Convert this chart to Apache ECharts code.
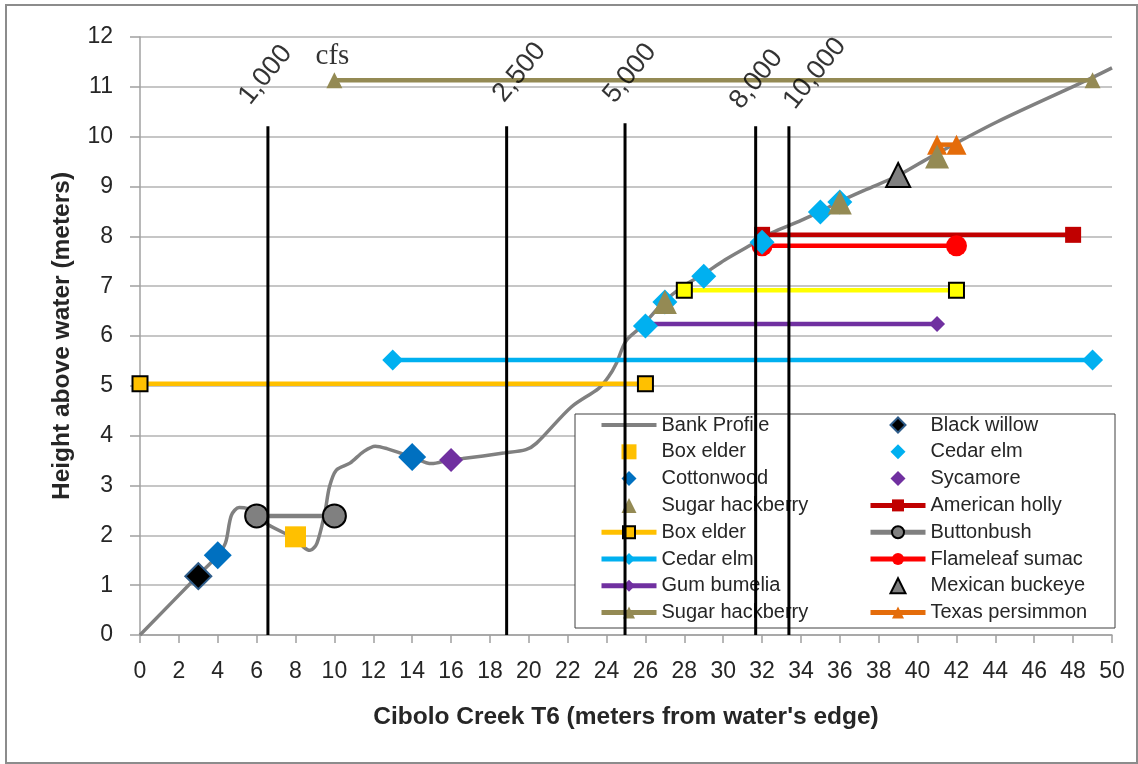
<!DOCTYPE html>
<html><head><meta charset="utf-8">
<script src="https://cdn.jsdelivr.net/npm/echarts@6/dist/echarts.min.js"></script>
<style>html,body{margin:0;padding:0;background:#fff}#c{width:1138px;height:764px}</style>
</head><body><div id="c"></div>
<script>
// ---- data ----
const xTicks = [0,2,4,6,8,10,12,14,16,18,20,22,24,26,28,30,32,34,36,38,40,42,44,46,48,50];
const yTicks = [0,1,2,3,4,5,6,7,8,9,10,11,12];
const bankProfile = [[0,0],[3,1.2],[4,1.6],[4.4,1.85],[4.7,2.4],[5.1,2.56],[5.5,2.54],[6,2.38],[6.5,2.23],[7.5,2.03],[8,1.95],[8.4,1.77],[8.75,1.7],[9.1,1.84],[9.5,2.44],[9.75,2.98],[10.1,3.31],[10.8,3.45],[11.5,3.68],[12.1,3.79],[12.7,3.74],[14,3.57],[15,3.44],[15.9,3.51],[16.6,3.54],[18.7,3.65],[19.85,3.72],[20.4,3.85],[22.2,4.58],[23.6,4.95],[24.1,5.18],[24.5,5.45],[25,5.9],[25.8,6.19],[26.9,6.66],[27.9,6.99],[28.9,7.22],[30.1,7.53],[31.3,7.8],[32.5,8.07],[33.9,8.3],[35,8.5],[36,8.7],[37.3,8.93],[39,9.22],[40.8,9.62],[44.1,10.3],[48.8,11.15],[50,11.38]];
const blackWillow = [[3,1.18]];
const boxElderPts = [[8,1.97]];
const cedarElmPts = [[26,6.2],[27,6.68],[29,7.2],[32,7.88],[35,8.49],[36,8.69]];
const cottonwoodPts = [[4,1.6],[14,3.57]];
const sycamorePts = [[16,3.51]];
const sugarHackPts = [[27,6.68],[36,8.68],[41,9.6]];
const americanHolly = [[32,8.03],[48,8.03]];
const boxElderRange = [[0,5.04],[26,5.04]];
const yellowRange = [[28,6.92],[42,6.92]];
const buttonbush = [[6,2.39],[10,2.39]];
const cedarElmRange = [[13,5.52],[49,5.52]];
const flameleaf = [[32,7.81],[42,7.81]];
const gumBumelia = [[26,6.24],[41,6.24]];
const mexicanBuckeye = [[39,9.23]];
const sugarHackRange = [[10,11.13],[49,11.13]];
const texasPersimmon = [[41,9.84],[42,9.84]];
const flowX = [6.58,18.86,24.95,31.67,33.38];
const flowTop = [10.21,10.21,10.27,10.21,10.21];
const flowText = ['1,000','2,500','5,000','8,000','10,000'];
const flowLabelX = [6.46,19.52,25.2,31.71,34.72];
const flowLabelY = [11.24,11.29,11.27,11.15,11.27];
const unitText = 'cfs';
const unitPos = [9.9,11.62];

// ---- chart ----
const FONT = 'Liberation Sans';
const chart = echarts.init(document.getElementById('c'), null, {renderer:'canvas'});

function rangeSeries(name, data, color, symbol, size, border, z) {
  return {name, type:'line', data, z: z||2, clip:false, showSymbol:true, symbol, symbolSize:size,
    lineStyle:{color, width:4.5}, itemStyle:{color, borderColor: border||color, borderWidth: border?2:0},
    emphasis:{disabled:true}};
}
function ptSeries(name, data, color, symbol, size, border) {
  return {name, type:'scatter', data, z:3, symbol, symbolSize:size,
    itemStyle:{color, opacity:1, borderColor: border||color, borderWidth: border?2:0}, emphasis:{disabled:true}};
}

const series = [
  {name:'Bank Profile', type:'line', data:bankProfile, smooth:0.3, symbol:'none', z:2,
    lineStyle:{color:'#808080', width:3.5}, itemStyle:{color:'#808080'}},
  rangeSeries('American holly', americanHolly, '#C00000', 'rect', 16),
  rangeSeries('Box elder ', boxElderRange, '#FFC000', 'rect', 15, '#000'),
  rangeSeries('Box elder yellow', yellowRange, '#FFFF00', 'rect', 15, '#000'),
  rangeSeries('Buttonbush', buttonbush, '#808080', 'circle', 23, '#000'),
  rangeSeries('Cedar elm ', cedarElmRange, '#00B0F0', 'diamond', 21),
  rangeSeries('Flameleaf sumac', flameleaf, '#FF0000', 'circle', 21),
  rangeSeries('Gum bumelia', gumBumelia, '#7030A0', 'diamond', 16),
  rangeSeries('Sugar hackberry ', sugarHackRange, '#948A54', 'triangle', 16),
  rangeSeries('Texas persimmon', texasPersimmon, '#E46C0A', 'triangle', 20),
  ptSeries('Black willow', blackWillow, '#000000', 'diamond', 26, '#2E5C8A'),
  ptSeries('Box elder', boxElderPts, '#FFC000', 'rect', 21),
  ptSeries('Cedar elm', cedarElmPts, '#00B0F0', 'diamond', 25),
  ptSeries('Cottonwood', cottonwoodPts, '#0070C0', 'diamond', 28),
  ptSeries('Sycamore', sycamorePts, '#7030A0', 'diamond', 24),
  ptSeries('Sugar hackberry', sugarHackPts, '#948A54', 'triangle', 24),
  ptSeries('Mexican buckeye', mexicanBuckeye, '#808080', 'triangle', 24, '#000'),
];
flowX.forEach((x, i) => {
  series.push({name:'flow'+i, type:'line', z:7, symbol:'none', data:[[x,0],[x,flowTop[i]]],
    lineStyle:{color:'#000', width:3}, emphasis:{disabled:true}});
});
series.push({name:'flowLabels', type:'scatter', z:8, symbolSize:0, clip:false,
  data: flowText.map((t,i)=>({value:[flowLabelX[i], flowLabelY[i]], name:t})),
  label:{show:true, position:'inside', formatter:p=>p.name, rotate:51, fontFamily:FONT, fontSize:27, color:'#000'}});
series.push({name:'unit', type:'scatter', z:8, symbolSize:0, clip:false,
  data:[{value:unitPos, name:unitText}],
  label:{show:true, position:'inside', formatter:p=>p.name, fontFamily:'Liberation Serif', fontSize:29, color:'#000'}});

const legendCommon = {orient:'vertical', padding:0, itemWidth:55, itemHeight:15, itemGap:6.8, z:6,
  symbolKeepAspect:true, selectedMode:false, lineStyle:{width:5},
  textStyle:{fontFamily:FONT, fontSize:20, lineHeight:20, color:'#262626'}};
const bankIcon = 'path://M0,0 L55,0 L55,4 L0,4 Z';
// marker-only legend icons (keep their aspect instead of stretching)
const DIAMOND = 'path://M5,0 L10,5 L5,10 L0,5 Z';
const SQUARE = 'path://M0,0 L10,0 L10,10 L0,10 Z';
const TRIANGLE = 'path://M5,0 L10,10 L0,10 Z';

const option = {
  animation:false,
  backgroundColor:'#fff',
  grid:{left:140, right:26, top:37, bottom:129},
  xAxis:{type:'value', min:0, max:50, interval:2,
    axisLine:{show:true, lineStyle:{color:'#a0a0a0', width:1.5}},
    axisTick:{show:true, length:8, lineStyle:{color:'#a0a0a0', width:1.5}},
    splitLine:{show:false},
    axisLabel:{fontFamily:FONT, fontSize:23, color:'#262626', margin:25,
      formatter:v=> xTicks.includes(v) ? String(v) : ''},
    name:"Cibolo Creek T6 (meters from water's edge)", nameLocation:'middle', nameGap:70,
    nameTextStyle:{fontFamily:FONT, fontSize:24.5, fontWeight:'bold', color:'#262626'}},
  yAxis:{type:'value', min:0, max:12, interval:1,
    axisLine:{show:true, lineStyle:{color:'#a0a0a0', width:1.5}},
    axisTick:{show:true, length:10, lineStyle:{color:'#a0a0a0', width:1.5}},
    splitLine:{show:true, lineStyle:{color:'#b3b3b3', width:1.5}},
    axisLabel:{fontFamily:FONT, fontSize:23, color:'#262626', margin:27,
      formatter:v=> yTicks.includes(v) ? String(v) : ''},
    name:'Height above water (meters)', nameLocation:'middle', nameGap:65,
    nameTextStyle:{fontFamily:FONT, fontSize:24.5, fontWeight:'bold', color:'#262626'}},
  legend:[
    Object.assign({}, legendCommon, {left:599, top:415,
      data:[{name:'Bank Profile', icon:bankIcon},{name:'Box elder', icon:SQUARE},{name:'Cottonwood', icon:DIAMOND},
        {name:'Sugar hackberry', icon:TRIANGLE},'Box elder ','Cedar elm ','Gum bumelia','Sugar hackberry ']}),
    Object.assign({}, legendCommon, {left:868, top:415,
      data:[{name:'Black willow', icon:DIAMOND},{name:'Cedar elm', icon:DIAMOND},{name:'Sycamore', icon:DIAMOND},
        'American holly','Buttonbush','Flameleaf sumac',{name:'Mexican buckeye', icon:TRIANGLE},'Texas persimmon']})
  ],
  graphic:[
    {type:'rect', z:5, shape:{x:575, y:414, width:540, height:214}, style:{fill:'#fff', stroke:'#404040', lineWidth:1}},
    {type:'rect', z:9, shape:{x:6, y:5, width:1131, height:758}, style:{fill:null, stroke:'#8c8c8c', lineWidth:2}}
  ],
  series
};
chart.setOption(option);
</script></body></html>
